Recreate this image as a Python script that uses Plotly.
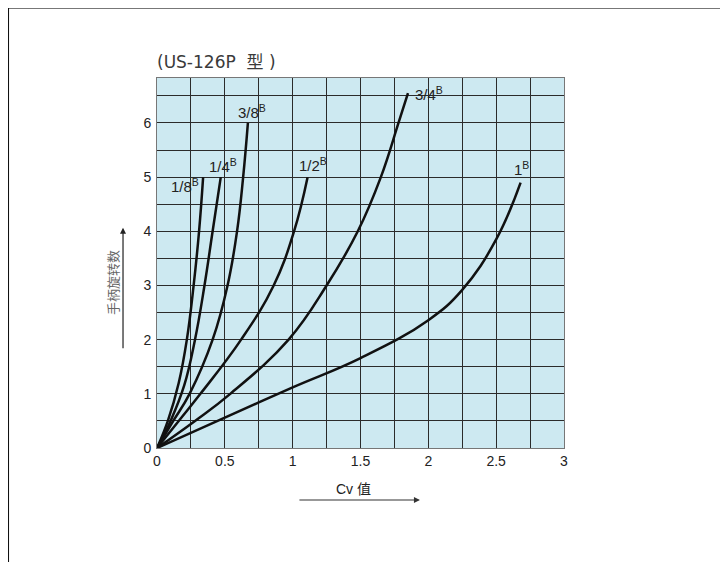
import plotly.graph_objects as go

# ---- data ----
labels = ["1/8", "1/4", "3/8", "1/2", "3/4", "1"]
cv_18 = [0, 0.08, 0.16, 0.22, 0.27, 0.31, 0.34]
rev_18 = [0, 0.5, 1.2, 2.0, 3.0, 4.0, 5.0]
cv_14 = [0, 0.1, 0.2, 0.28, 0.35, 0.41, 0.47]
rev_14 = [0, 0.5, 1.15, 2.0, 3.0, 4.0, 5.0]
cv_38 = [0, 0.12, 0.24, 0.41, 0.52, 0.59, 0.635, 0.67]
rev_38 = [0, 0.5, 1.0, 2.0, 3.0, 4.0, 5.0, 6.0]
cv_12 = [0, 0.16, 0.32, 0.62, 0.86, 1.01, 1.11]
rev_12 = [0, 0.5, 1.0, 2.0, 3.0, 4.0, 5.0]
cv_34 = [0, 0.28, 0.54, 0.97, 1.25, 1.48, 1.65, 1.78, 1.85]
rev_34 = [0, 0.5, 1.0, 2.0, 3.0, 4.0, 5.0, 6.0, 6.55]
cv_1 = [0, 0.5, 1.0, 1.5, 2.0, 2.25, 2.5, 2.68]
rev_1 = [0, 0.56, 1.12, 1.66, 2.36, 2.92, 3.85, 4.9]

series_x = [cv_18, cv_14, cv_38, cv_12, cv_34, cv_1]
series_y = [rev_18, rev_14, rev_38, rev_12, rev_34, rev_1]
label_shift = [(-18, -8), (2, 12), (4, 11), (5, 13), (21, 0), (1, 14)]

x_ticks = [0, 0.5, 1, 1.5, 2, 2.5, 3]
x_ticktext = ["0", "0.5", "1", "1.5", "2", "2.5", "3"]
y_ticks = [0, 1, 2, 3, 4, 5, 6]

fig = go.Figure()
for xs, ys in zip(series_x, series_y):
    fig.add_trace(go.Scatter(x=xs, y=ys, mode="lines",
                             line=dict(color="#111111", width=2.5, shape="spline", smoothing=1.2),
                             showlegend=False, hoverinfo="skip"))

for lab, xs, ys, (dx, dy) in zip(labels, series_x, series_y, label_shift):
    fig.add_annotation(x=xs[-1], y=ys[-1], text=f"{lab}<sup>B</sup>", showarrow=False,
                       xshift=dx, yshift=dy, xanchor="center", yanchor="middle",
                       font=dict(family="Liberation Sans, Arial", size=15, color="#222"))

grid_col = "#2b2b2b"
fig.update_xaxes(range=[0, 3], tickvals=x_ticks, ticktext=x_ticktext,
                 showgrid=True, gridcolor=grid_col, gridwidth=1,
                 minor=dict(dtick=0.25, showgrid=True, gridcolor=grid_col, gridwidth=1),
                 zeroline=False, showline=True, linecolor="#777", linewidth=1, mirror=True,
                 ticks="", tickfont=dict(family="Liberation Sans, Arial", size=14, color="#222"))
fig.update_yaxes(range=[0, 6.83], tickvals=y_ticks,
                 showgrid=True, gridcolor=grid_col, gridwidth=1,
                 minor=dict(dtick=0.5, showgrid=True, gridcolor=grid_col, gridwidth=1),
                 zeroline=False, showline=True, linecolor="#777", linewidth=1, mirror=True,
                 ticks="", ticklabelstandoff=2,
                 tickfont=dict(family="Liberation Sans, Arial", size=14, color="#222"))

# title
fig.add_annotation(xref="paper", yref="paper", x=0.146, y=1.043, text="(US-126P  型 )",
                   xanchor="center", yanchor="middle",
                   showarrow=False, font=dict(family="DejaVu Sans, Noto Sans CJK SC", size=17, color="#3a3a3a"))
# y title + arrow
fig.add_annotation(xref="paper", yref="paper", x=-0.108, y=0.446, text="手柄旋转数", textangle=-90,
                   xanchor="center", yanchor="middle",
                   showarrow=False, font=dict(family="Noto Sans CJK SC", size=13, color="#666"))
fig.add_annotation(xref="paper", yref="paper", x=-0.0835, y=0.595, ax=0, ay=122, text="",
                   showarrow=True, arrowhead=2, arrowsize=1, arrowwidth=1.2, arrowcolor="#222")
# x title + arrow
fig.add_annotation(xref="paper", yref="paper", x=0.484, y=-0.111, text="Cv 值",
                   xanchor="center", yanchor="middle",
                   showarrow=False, font=dict(family="Liberation Sans, Noto Sans CJK SC", size=14, color="#222"))
fig.add_annotation(xref="paper", yref="paper", x=0.646, y=-0.1405, ax=-122, ay=0, text="",
                   showarrow=True, arrowhead=2, arrowsize=1, arrowwidth=1.2, arrowcolor="#333")

# page frame lines
fig.add_shape(type="line", xref="paper", yref="paper", x0=-0.366, x1=1.45, y0=1.189, y1=1.189,
              line=dict(color="#777", width=2))
fig.add_shape(type="line", xref="paper", yref="paper", x0=-0.366, x1=-0.366, y0=1.189, y1=-0.35,
              line=dict(color="#111", width=2))

fig.update_layout(width=728, height=562, margin=dict(l=149, r=172, t=70, b=122),
                  plot_bgcolor="#cde9f1", paper_bgcolor="white", showlegend=False)
fig.write_html("out.html")
